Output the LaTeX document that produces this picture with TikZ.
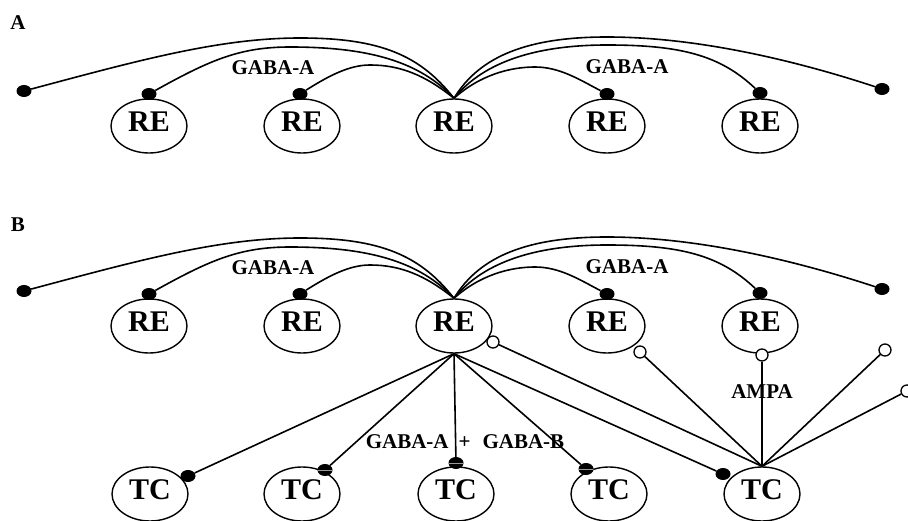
\documentclass[tikz,border=0pt]{standalone}
\usepackage{fontspec}
\setmainfont{Liberation Serif}
\usetikzlibrary{shapes.geometric}
\newcommand\rearcs[1]{%
  \foreach \ii/\xx in {1/149,2/302,3/454,4/607,5/760}
    \node[cell] (#1r\ii) at (\xx,126) {RE};
  \node[dot] (#1d1) at (149,94) {};
  \node[dot] (#1d2) at (300,94) {};
  \node[dot] (#1d4) at (607,94) {};
  \node[dot] (#1d5) at (760,93) {};
  \node[dot] (#1dL) at (24,91) {};
  \node[dot] (#1dR) at (882,89) {};
  \draw[wire] (#1dL) .. controls (140,60) and (220,38) .. (300,38)
     .. controls (380,38) and (420,55) .. (#1r3.north);
  \draw[wire] (#1d1) .. controls (210,60) and (240,47) .. (290,47)
     .. controls (370,47) and (420,62) .. (#1r3.north);
  \draw[wire] (#1d2) .. controls (330,75) and (350,65) .. (370,65)
     .. controls (400,65) and (425,75) .. (#1r3.north);
  \draw[wire] (#1r3.north) .. controls (480,55) and (530,37) .. (607,37)
     .. controls (700,37) and (800,62) .. (#1dR);
  \draw[wire] (#1r3.north) .. controls (485,60) and (540,45) .. (607,45)
     .. controls (680,45) and (720,55) .. (#1d5);
  \draw[wire] (#1r3.north) .. controls (480,75) and (510,67) .. (535,67)
     .. controls (560,67) and (580,80) .. (#1d4);
  \node[lab] (#1g1) at (273,68) {GABA-A};
  \node[lab] (#1g2) at (627,67) {GABA-A};
}
\begin{document}
\begin{tikzpicture}[x=1pt,y=-1pt,
  cell/.style={ellipse,draw,line width=1.4pt,minimum width=76pt,minimum height=54pt,
    inner sep=0pt,font=\fontsize{30}{30}\selectfont\bfseries,text depth=8pt},
  dot/.style={ellipse,fill=black,minimum width=15pt,minimum height=12pt,inner sep=0pt},
  splitdot/.style={dot,path picture={\draw[white!60!black,line width=1pt]
     (path picture bounding box.west) -- (path picture bounding box.east);}},
  ocirc/.style={circle,draw,line width=1.3pt,fill=white,minimum size=12pt,inner sep=0pt},
  wire/.style={line width=1.6pt},
  lab/.style={font=\fontsize{21}{21}\selectfont\bfseries,inner sep=0pt},
  panel/.style={font=\fontsize{21}{21}\selectfont\bfseries,inner sep=0pt}]
\useasboundingbox (0,0) rectangle (908,521);
\node[panel] (pa) at (18,23) {A};
\begin{scope}
  \rearcs{A}
\end{scope}
\node[panel] (pb) at (18,225) {B};
\begin{scope}[yshift=-200pt]
  \rearcs{B}
\end{scope}
% TC row
\foreach \ii/\xx in {1/150,2/302,3/456,4/609,5/762}
  \node[cell] (t\ii) at (\xx,494) {TC};
\node[dot] (dt1) at (188,476) {};
\node[splitdot] (dt2) at (325,470) {};
\node[splitdot] (dt3) at (456,463) {};
\node[splitdot] (dt4) at (586,469) {};
\node[dot] (dt5) at (723,474) {};
\foreach \ii in {1,...,5}
  \draw[wire] (Br3.south) -- (dt\ii);
\node[ocirc] (oc3) at (493,342) {};
\node[ocirc] (oc4) at (640,352) {};
\node[ocirc] (oc5) at (762,355) {};
\node[ocirc] (oc6) at (885,350) {};
\node[ocirc] (oc7) at (907,391) {};
\foreach \ii in {3,...,7}
  \draw[wire] (t5.north) -- (oc\ii);
\node[lab] (ampa) at (762,392) {AMPA};
\node[lab] (gg) at (465,442) {GABA-A\hspace{10pt}+\hspace{12pt}GABA-B};
\end{tikzpicture}
\end{document}
